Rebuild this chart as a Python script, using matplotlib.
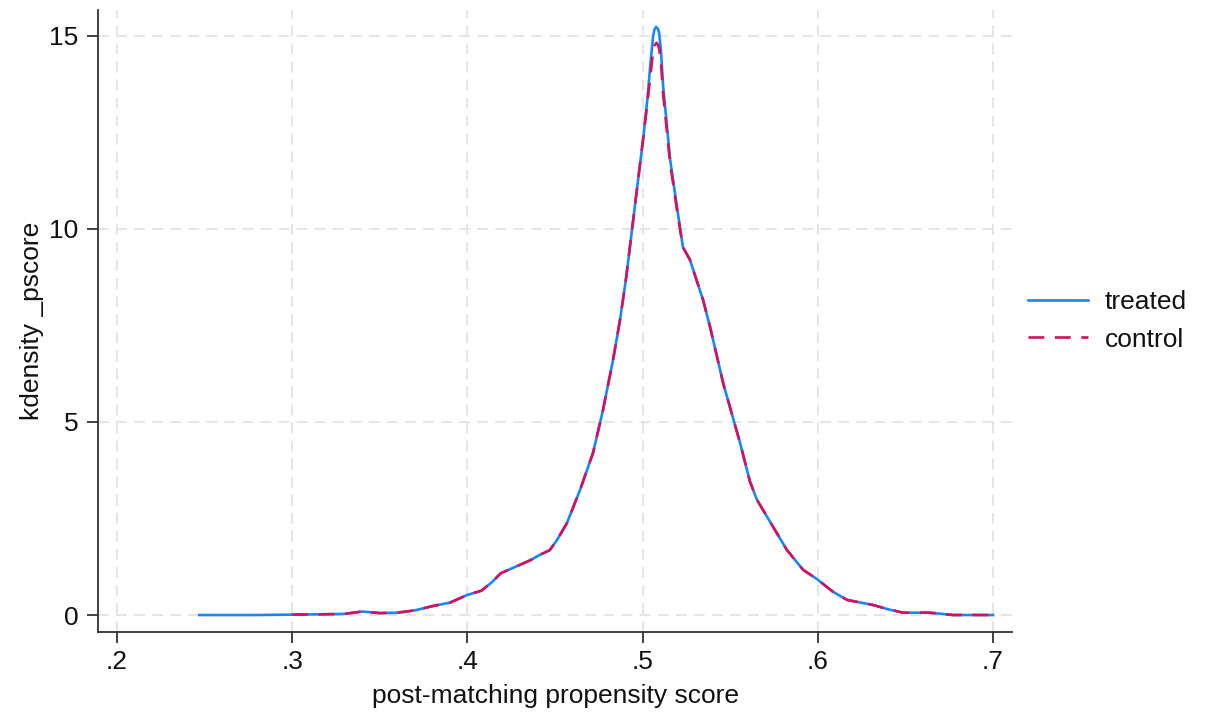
import matplotlib
matplotlib.use("Agg")
import matplotlib.pyplot as plt

plt.rcParams['font.family'] = ['Liberation Sans', 'DejaVu Sans']

# Post-matching propensity score (x) and kernel density (y)
x_treated = [0.247, 0.26, 0.28, 0.30, 0.32, 0.33, 0.34, 0.35, 0.36, 0.37, 0.38, 0.39,
             0.396, 0.40, 0.408, 0.414, 0.419, 0.425, 0.436, 0.441, 0.447, 0.4511, 0.4568,
             0.4643, 0.4717, 0.4774, 0.4831, 0.4871, 0.4905, 0.494, 0.4975, 0.5005, 0.5028,
             0.5045, 0.506, 0.5068, 0.5077, 0.5088, 0.5095, 0.5105, 0.5117, 0.5157,
             0.5196, 0.523, 0.527, 0.5345, 0.5385, 0.546, 0.5556, 0.5613, 0.5653, 0.5745,
             0.5824, 0.5916, 0.5995, 0.6087, 0.6167, 0.6315, 0.64, 0.6486, 0.664, 0.677, 0.70]
y_treated = [0.0, 0.0, 0.0, 0.01, 0.02, 0.03, 0.09, 0.05, 0.06, 0.12, 0.23, 0.32,
             0.44, 0.52, 0.63, 0.85, 1.08, 1.20, 1.42, 1.55, 1.68, 1.94, 2.38,
             3.24, 4.2, 5.31, 6.6, 7.64, 8.7, 10.0, 11.3, 12.4, 13.4,
             14.3, 15.0, 15.17, 15.23, 15.18, 15.05, 14.6, 13.7, 11.8,
             10.57, 9.53, 9.2, 8.16, 7.46, 6.0, 4.46, 3.45, 2.98, 2.28,
             1.68, 1.17, 0.93, 0.6, 0.39, 0.26, 0.15, 0.06, 0.06, 0.0, 0.0]

x_control = [0.30, 0.32, 0.33, 0.34, 0.35, 0.36, 0.37, 0.38, 0.39,
             0.396, 0.40, 0.408, 0.414, 0.419, 0.425, 0.436, 0.441, 0.447, 0.4511, 0.4568,
             0.4643, 0.4717, 0.4774, 0.4831, 0.4871, 0.4905, 0.494, 0.4975, 0.5005, 0.5028,
             0.5045, 0.506, 0.5068, 0.508, 0.509, 0.5095, 0.5105, 0.5117, 0.5157,
             0.5196, 0.523, 0.527, 0.5345, 0.5385, 0.546, 0.5556, 0.5613, 0.5653, 0.5745,
             0.5824, 0.5916, 0.5995, 0.6087, 0.6167, 0.6315, 0.64, 0.6486, 0.664, 0.677, 0.70]
y_control = [0.01, 0.02, 0.03, 0.09, 0.05, 0.06, 0.12, 0.23, 0.32,
             0.44, 0.52, 0.63, 0.85, 1.08, 1.20, 1.42, 1.55, 1.68, 1.94, 2.38,
             3.24, 4.2, 5.31, 6.6, 7.64, 8.7, 10.0, 11.3, 12.4, 13.3,
             14.0, 14.6, 14.75, 14.82, 14.75, 14.65, 14.3, 13.5, 11.7,
             10.5, 9.53, 9.2, 8.16, 7.46, 6.0, 4.46, 3.45, 2.98, 2.28,
             1.68, 1.17, 0.93, 0.6, 0.39, 0.26, 0.15, 0.06, 0.06, 0.0, 0.0]

x_ticks = [0.2, 0.3, 0.4, 0.5, 0.6, 0.7]
x_ticklabels = ['.2', '.3', '.4', '.5', '.6', '.7']
y_ticks = [0, 5, 10, 15]
y_ticklabels = ['0', '5', '10', '15']

fig = plt.figure(figsize=(12.08, 7.18), dpi=100)
ax = fig.add_axes([98/1208, 86/718, (1012-98)/1208, (632-10)/718])

blue = '#1a85ff'
red = '#d41159'
ax.plot(x_treated, y_treated, color=blue, lw=1.9, label='treated', zorder=3,
        solid_joinstyle='round')
ax.plot(x_control, y_control, color=red, lw=1.9, linestyle=(0, (6, 4)), label='control',
        zorder=4, dash_joinstyle='round')

ax.set_xlim(0.1892, 0.7108)
ax.set_ylim(-0.44, 15.67)
ax.set_xticks(x_ticks)
ax.set_xticklabels(x_ticklabels)
ax.set_yticks(y_ticks)
ax.set_yticklabels(y_ticklabels)

ax.grid(True, color='#e3e3e3', linestyle=(0, (6, 4)), lw=1.3, zorder=0)
for s in ['top', 'right']:
    ax.spines[s].set_visible(False)
for s in ['left', 'bottom']:
    ax.spines[s].set_color('#333333')
    ax.spines[s].set_linewidth(1.3)
ax.tick_params(axis='both', direction='out', length=8, width=1.3, color='#333333',
               labelsize=19, labelcolor='#111111')
ax.tick_params(axis='y', pad=6)
ax.tick_params(axis='x', pad=5)

ax.set_xlabel('post-matching propensity score', fontsize=19, color='#111111', labelpad=7)
ax.set_ylabel('kdensity _pscore', fontsize=19, color='#111111', labelpad=4)

leg = ax.legend(loc='center left', bbox_to_anchor=(1.018, 0.50), frameon=False,
                fontsize=19, handlelength=2.25, handletextpad=0.65, labelspacing=0.5,
                borderpad=0, borderaxespad=0)
for t in leg.get_texts():
    t.set_color('#111111')

fig.savefig('out.png', dpi=100)
